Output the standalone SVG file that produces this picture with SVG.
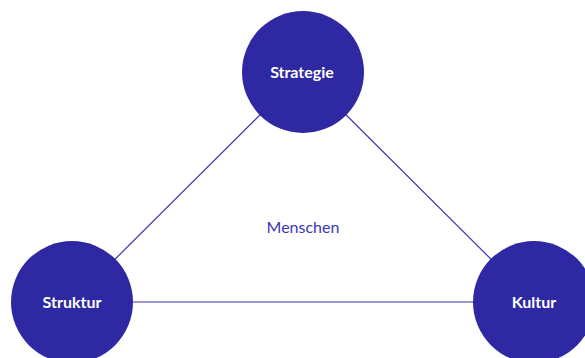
<svg xmlns="http://www.w3.org/2000/svg" width="585" height="358" viewBox="0 0 585 358">
<style>
.node{fill:#2E29A3;}
.lbl{fill:#ffffff;font-family:Lato,"Open Sans",sans-serif;font-weight:bold;font-size:16px;text-anchor:middle;}
.conn{stroke:#3B36B3;stroke-width:1.2;fill:none;}
.center{fill:#3B36B3;font-family:Lato,"Open Sans",sans-serif;font-size:16px;text-anchor:middle;}
</style>
<rect width="585" height="358" fill="#ffffff"/>
<g id="connectors">
<line class="conn" x1="303" y1="72" x2="72" y2="302"/>
<line class="conn" x1="303" y1="72" x2="534" y2="302"/>
<line class="conn" x1="72" y1="302" x2="534" y2="302"/>
</g>
<text class="center" x="303" y="233">Menschen</text>
<g id="strategie">
<circle class="node" cx="303" cy="72" r="61"/>
<text class="lbl" x="302" y="78">Strategie</text>
</g>
<g id="struktur">
<circle class="node" cx="72" cy="302" r="61"/>
<text class="lbl" x="72" y="308">Struktur</text>
</g>
<g id="kultur">
<circle class="node" cx="534" cy="302" r="61"/>
<text class="lbl" x="534" y="308">Kultur</text>
</g>
</svg>
